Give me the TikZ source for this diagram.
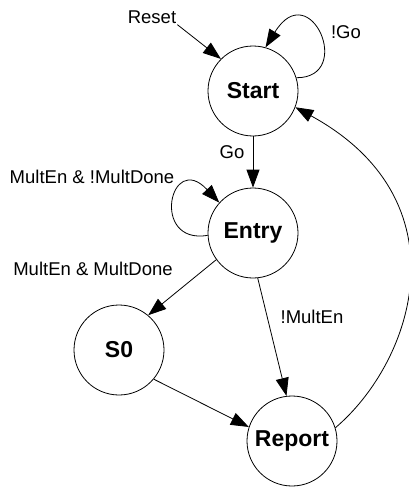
\documentclass[tikz,border=0pt]{standalone}
\usepackage{fontspec}
\setmainfont{Liberation Sans}
\usetikzlibrary{arrows.meta}
\begin{document}
\begin{tikzpicture}[x=1pt, y=-1pt,
state/.style={circle, draw, line width=0.8pt, minimum size=90pt, inner sep=0pt, font=\fontsize{23}{26}\selectfont\bfseries},
lbl/.style={inner sep=1pt, font=\fontsize{18.5}{21}\selectfont},
edge/.style={line width=0.8pt, -{Triangle[length=18pt,width=13pt]}}]
\useasboundingbox (0,0) rectangle (409,487);
\node[state] (Start) at (253,91) {Start};
\node[state] (Entry) at (253,233) {Entry};
\node[state] (S0) at (119,350) {S0};
\node[state] (Report) at (292,441) {Report};
\node[lbl] (reset) at (152,17) {Reset};
\node[lbl] (nogo) at (346,32) {!Go};
\node[lbl] (go) at (232,152) {Go};
\node[lbl] (wait) at (92,177) {MultEn \& !MultDone};
\node[lbl] (done) at (93,269) {MultEn \& MultDone};
\node[lbl] (nomult) at (312,317) {!MultEn};
\draw[edge] (reset.south east) -- (Start.135);
\draw[edge] (Start.17) .. controls (355,78) and (310,-25) .. (Start.74);
\draw[edge] (Start) -- (Entry);
\draw[edge] (Entry.183) .. controls (150,245) and (170,150) .. (Entry.138);
\draw[edge] (Entry.216) -- (S0.50);
\draw[edge] (Entry.-84) -- (Report.97);
\draw[edge] (S0.-40) -- (Report.162);
\draw[edge] (Report.17) .. controls (415,360) and (465,200) .. (Start.-21);
\end{tikzpicture}
\end{document}
